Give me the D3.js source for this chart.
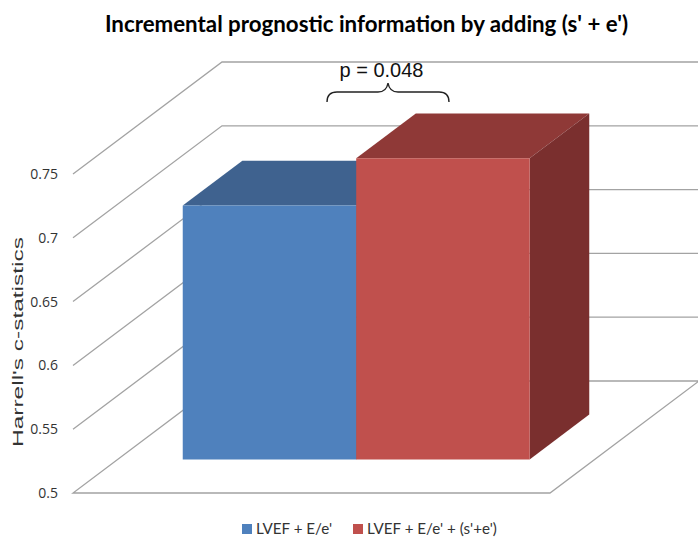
<!DOCTYPE html>
<html>
<head>
<meta charset="utf-8">
<script src="https://cdn.jsdelivr.net/npm/d3@7"></script>
<style>
    html, body { margin: 0; padding: 0; background: #fff; }
    svg { display: block; }
</style>
</head>
<body>
<div id="chart"></div>
<script>
var categories = ["LVEF + E/e'", "LVEF + E/e' + (s'+e')"];
var values = [0.699, 0.736];
var ticks = [0.5, 0.55, 0.6, 0.65, 0.7, 0.75];
var tickLabels = ['0.5', '0.55', '0.6', '0.65', '0.7', '0.75'];
var frontColors = ['#4f81bd', '#c0504d'];
var topColors = ['#3f628f', '#8f3937'];
var sideColors = ['#34527a', '#7a2f2e'];

var width = 698;
var height = 538;
var gridColor = '#a3a3a3';

var svg = d3.select('#chart')
    .append('svg')
        .attr('width', width)
        .attr('height', height);

// front plane of the 3d box
var x = d3.scaleBand()
    .domain(categories)
    .range([73, 550])
    .paddingInner(0)
    .paddingOuter(0.375);

var y = d3.scaleLinear()
    .domain([0.5, 0.75])
    .range([493, 174]);

// how far a point is pushed back into the box
var depthX = d3.scaleLinear().domain([0, 1]).range([0, 149]);
var depthY = d3.scaleLinear().domain([0, 1]).range([0, -112]);

var barFront = 0.3;
var barBack = 0.7;

function pt(px, v, d) {
    return [px + depthX(d), y(v) + depthY(d)];
}

function poly(points) {
    return 'M' + points.map(p => p.join(',')).join('L') + 'Z';
}

var x0 = x.range()[0];
var x1 = x.range()[1];
var base = y.domain()[0];

// floor
svg.append('path')
    .attr('d', poly([pt(x0, base, 0), pt(x1, base, 0), pt(x1, base, 1), pt(x0, base, 1)]))
    .attr('fill', 'none')
    .attr('stroke', gridColor)
    .attr('stroke-width', 1.3);

// gridlines: wall diagonal, then along the back
var grid = svg.append('g').attr('class', 'grid');

grid.selectAll('.wall')
    .data(ticks.slice(1))
    .enter()
    .append('path')
        .attr('class', 'wall')
        .attr('d', d => {
            var a = pt(x0, d, 0);
            var b = pt(x0, d, 1);
            var c = pt(x1, d, 1);
            return 'M' + a + 'L' + b + 'L' + c;
        })
        .attr('fill', 'none')
        .attr('stroke', gridColor)
        .attr('stroke-width', 1.3);

// tick labels
var axis = d3.axisLeft(y)
    .tickValues(ticks)
    .tickSize(0)
    .tickPadding(15)
    .tickFormat((d, i) => tickLabels[i]);

var axisG = svg.append('g')
    .attr('transform', 'translate(' + x0 + ', 0)')
    .call(axis);

axisG.select('.domain').remove();
axisG.selectAll('text')
    .attr('fill', '#333')
    .style('font-family', '"Open Sans", sans-serif')
    .style('font-size', '14px');

// bars, back to front in draw order
var bars = svg.selectAll('.bar')
    .data(categories)
    .enter()
    .append('g')
        .attr('class', 'bar');

bars.append('path')
    .attr('d', (d, i) => {
        var l = x(d);
        var r = l + x.bandwidth();
        return poly([pt(l, values[i], barFront), pt(r, values[i], barFront), pt(r, values[i], barBack), pt(l, values[i], barBack)]);
    })
    .attr('fill', (d, i) => topColors[i]);

bars.append('path')
    .attr('d', (d, i) => {
        var r = x(d) + x.bandwidth();
        return poly([pt(r, base, barFront), pt(r, base, barBack), pt(r, values[i], barBack), pt(r, values[i], barFront)]);
    })
    .attr('fill', (d, i) => sideColors[i]);

bars.append('path')
    .attr('d', (d, i) => {
        var l = x(d);
        var r = l + x.bandwidth();
        return poly([pt(l, base, barFront), pt(r, base, barFront), pt(r, values[i], barFront), pt(l, values[i], barFront)]);
    })
    .attr('fill', (d, i) => frontColors[i]);

// title
svg.append('text')
    .attr('x', 366.5)
    .attr('y', 32)
    .attr('text-anchor', 'middle')
    .attr('fill', '#000')
    .style('font-family', 'Lato, sans-serif')
    .style('font-weight', 700)
    .style('font-size', '22.3px')
    .text("Incremental prognostic information by adding (s' + e')");

// p value and brace
svg.append('text')
    .attr('x', 381.5)
    .attr('y', 77)
    .attr('text-anchor', 'middle')
    .attr('fill', '#111')
    .style('font-family', '"Liberation Sans", sans-serif')
    .style('font-size', '20px')
    .text('p = 0.048');

svg.append('path')
    .attr('d', 'M327,102 C327,96 330,92 337,92 L378,92 C384,92 387,89 388,83 C389,89 392,92 398,92 L439,92 C446,92 449,96 449,102')
    .attr('fill', 'none')
    .attr('stroke', '#222')
    .attr('stroke-width', 1.4);

// y axis title
svg.append('text')
    .attr('transform', 'translate(23, 447) rotate(-90)')
    .attr('textLength', 210)
    .attr('lengthAdjust', 'spacingAndGlyphs')
    .attr('fill', '#333')
    .style('font-family', '"Liberation Sans", sans-serif')
    .style('font-size', '15px')
    .text("Harrell's c-statistics");

// legend
var legendX = [242, 353];

var legendRow = svg.selectAll('.legendRow')
    .data(categories)
    .enter()
    .append('g')
        .attr('class', 'legendRow')
        .attr('transform', (d, i) => 'translate(' + legendX[i] + ', 524)');

legendRow.append('rect')
    .attr('width', 10)
    .attr('height', 10)
    .attr('fill', (d, i) => frontColors[i]);

legendRow.append('text')
    .attr('x', 14)
    .attr('y', 10)
    .attr('fill', '#333')
    .style('font-family', 'Lato, sans-serif')
    .style('font-size', '15.2px')
    .text(d => d);
</script>
</body>
</html>
